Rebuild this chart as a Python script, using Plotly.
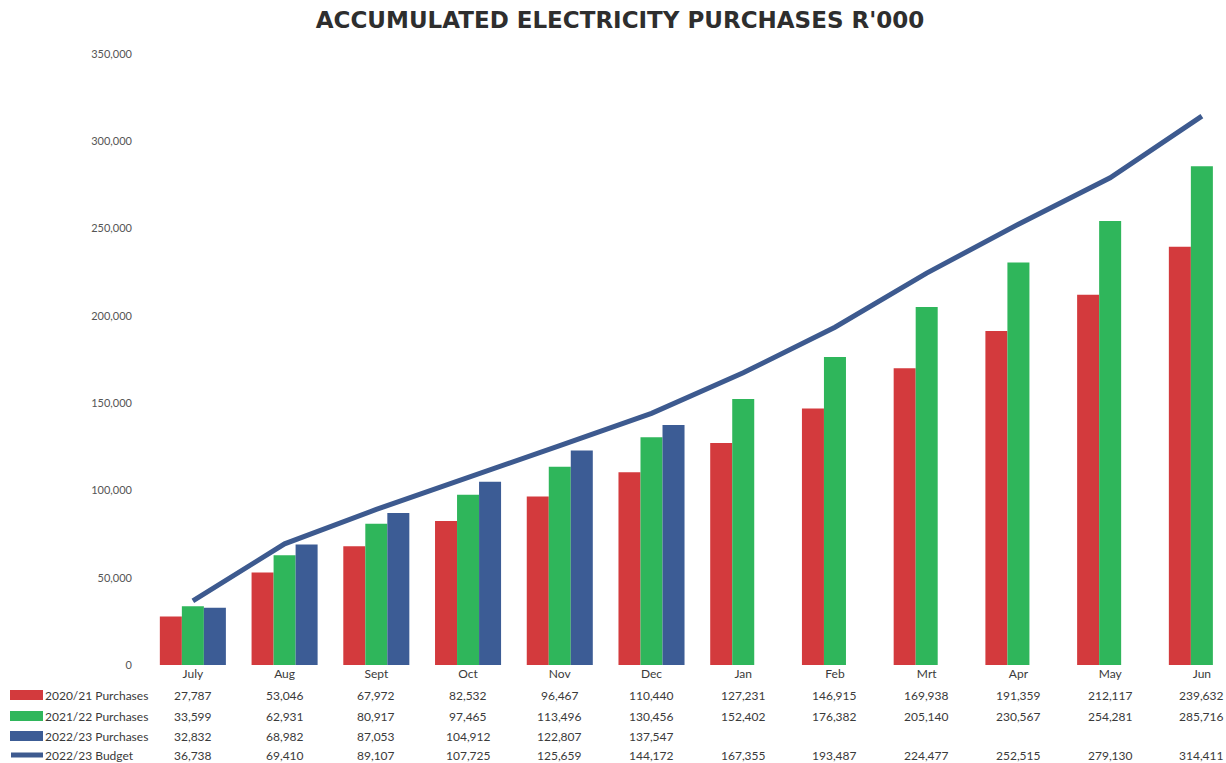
import plotly.graph_objects as go

# Monthly accumulated electricity purchases (R'000)
months = ["July", "Aug", "Sept", "Oct", "Nov", "Dec",
          "Jan", "Feb", "Mrt", "Apr", "May", "Jun"]

purchases_2020_21 = [27787, 53046, 67972, 82532, 96467, 110440,
                     127231, 146915, 169938, 191359, 212117, 239632]
purchases_2021_22 = [33599, 62931, 80917, 97465, 113496, 130456,
                     152402, 176382, 205140, 230567, 254281, 285716]
purchases_2022_23 = [32832, 68982, 87053, 104912, 122807, 137547,
                     None, None, None, None, None, None]
budget_2022_23 = [36738, 69410, 89107, 107725, 125659, 144172,
                  167355, 193487, 224477, 252515, 279130, 314411]

series_names = ["2020/21 Purchases", "2021/22 Purchases",
                "2022/23 Purchases", "2022/23 Budget"]

y_ticks = [0, 50000, 100000, 150000, 200000, 250000, 300000, 350000]

RED = "#d33a3d"
GREEN = "#2fb65b"
BLUE = "#3c5c95"
LINE = "#3d5a8f"
TEXT = "#3a3a3a"
FONT = "Lato"

fig = go.Figure()
for name, vals, col in zip(series_names[:3],
                           [purchases_2020_21, purchases_2021_22, purchases_2022_23],
                           [RED, GREEN, BLUE]):
    fig.add_trace(go.Bar(x=months, y=vals, name=name, marker_color=col,
                         marker_line_width=0, showlegend=False))

fig.add_trace(go.Scatter(x=months, y=budget_2022_23, name=series_names[3],
                         mode="lines", line=dict(color=LINE, width=5),
                         showlegend=False))

# Plot area geometry in pixels (used to place the data table under the axis)
L, T, B, W, H = 147, 54, 98, 1226, 763
plot_w = W - L
plot_h = H - T - B


def px_x(px):
    return (px - L) / plot_w


def px_y(py):
    return (H - B - py) / plot_h


annotations = []
shapes = []
row_py = [695, 716, 736, 755]
table_rows = [purchases_2020_21, purchases_2021_22, purchases_2022_23, budget_2022_23]
key_colors = [RED, GREEN, BLUE, LINE]

for r, (name, vals, col, py) in enumerate(zip(series_names, table_rows, key_colors, row_py)):
    # row label
    annotations.append(dict(
        x=px_x(43), y=px_y(py), xref="paper", yref="paper",
        text=name, showarrow=False, xanchor="left", yanchor="middle",
        font=dict(family=FONT, size=12, color=TEXT)))
    # legend key
    if r < 3:
        shapes.append(dict(type="rect", xref="paper", yref="paper",
                           x0=px_x(10), x1=px_x(43), y0=px_y(py + 5), y1=px_y(py - 5),
                           fillcolor=col, line=dict(width=0), layer="above"))
    else:
        shapes.append(dict(type="line", xref="paper", yref="paper",
                           x0=px_x(11), x1=px_x(43), y0=px_y(py), y1=px_y(py),
                           line=dict(color=col, width=5), layer="above"))
    # values
    for m, v in zip(months, vals):
        if v is None:
            continue
        annotations.append(dict(
            x=m, y=px_y(py), xref="x", yref="paper",
            text=f"{v:,}", showarrow=False, xanchor="center", yanchor="middle",
            font=dict(family=FONT, size=12, color=TEXT)))

fig.update_layout(
    width=W, height=H,
    margin=dict(l=L, r=0, t=T, b=B),
    paper_bgcolor="white", plot_bgcolor="white",
    barmode="group", bargap=0.28, bargroupgap=0,
    title=dict(text="ACCUMULATED ELECTRICITY PURCHASES R'000",
               x=620 / W, xref="container", xanchor="center",
               y=1 - 20 / H, yref="container", yanchor="middle",
               font=dict(family="DejaVu Sans", size=23, color="#2e2e2e", weight="bold")),
    xaxis=dict(range=[-0.5, 11.263], showgrid=False, showline=False, zeroline=False,
               ticks="", tickfont=dict(family=FONT, size=12, color=TEXT),
               fixedrange=True),
    yaxis=dict(range=[0, 350000], tickvals=y_ticks, tickformat=",",
               showgrid=False, showline=False, zeroline=False, ticks="",
               ticklabelstandoff=14,
               tickfont=dict(family=FONT, size=11, color="#555555")),
    annotations=annotations,
    shapes=shapes,
)

fig.write_html("out.html")
